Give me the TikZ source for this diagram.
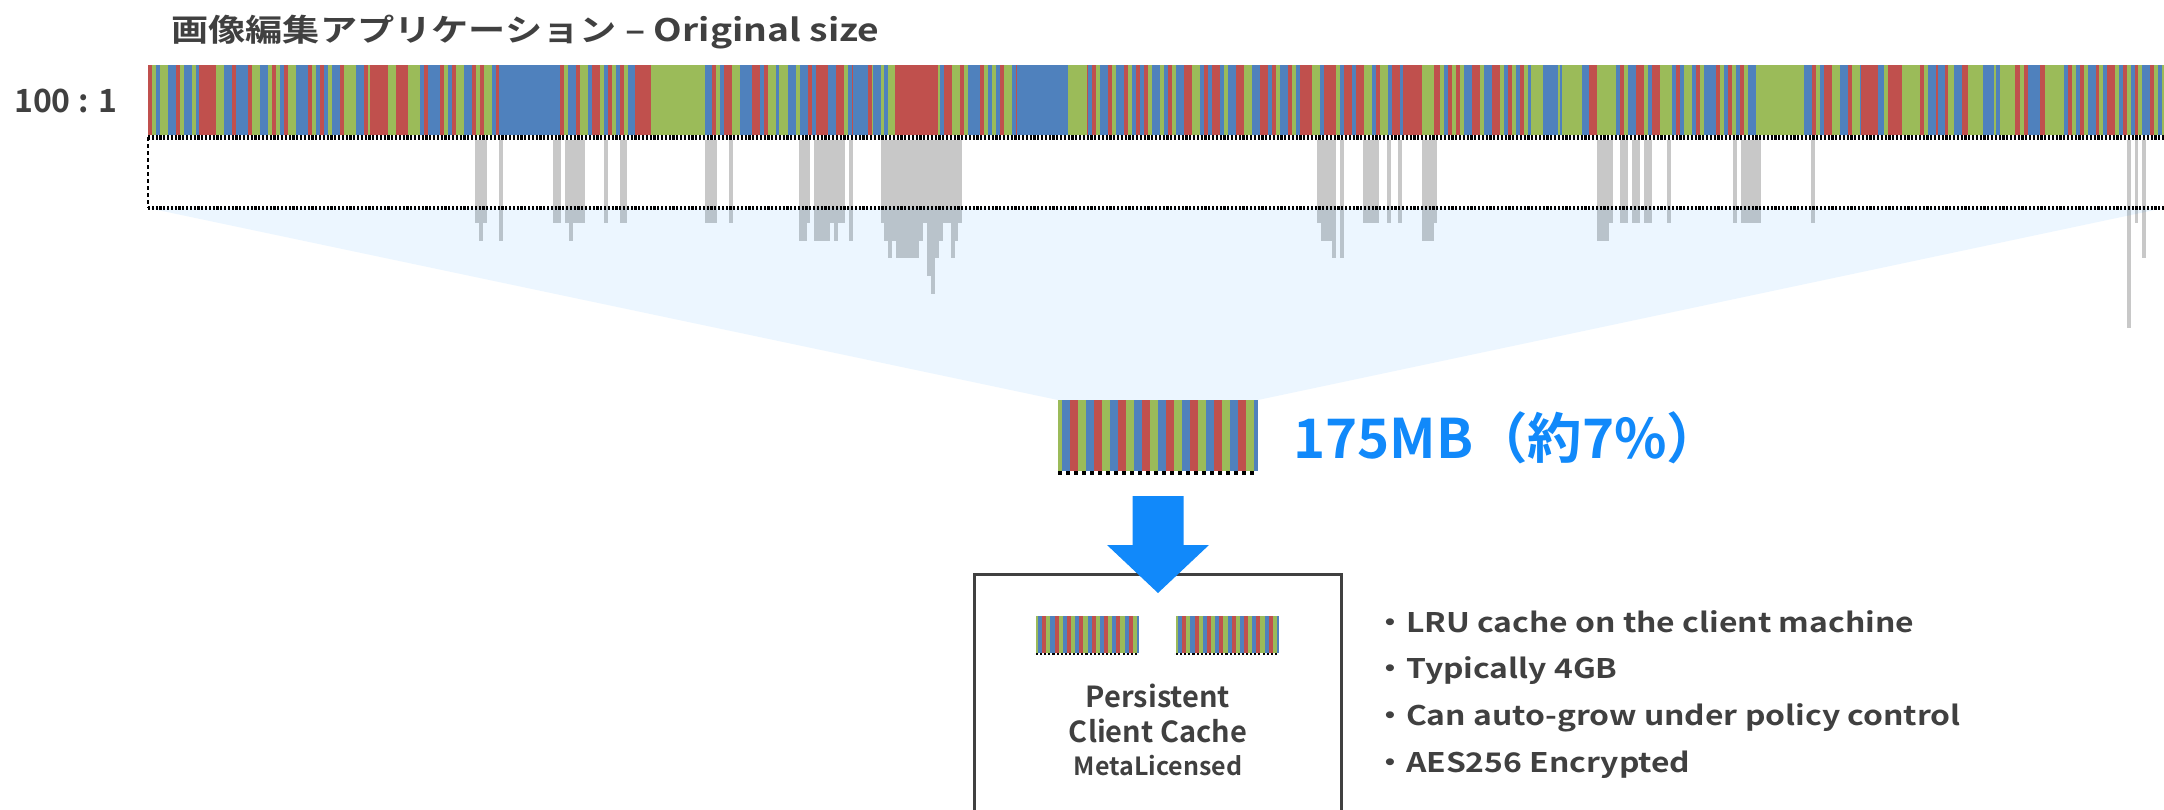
\documentclass[tikz,border=0pt]{standalone}
\usepackage{fontspec}
\usetikzlibrary{calc}
\newfontfamily\jpwide{Noto Sans CJK JP Bold}[FakeStretch=1.2]
\newfontfamily\jplist{Noto Sans CJK JP Bold}[FakeStretch=1.18]
\newfontfamily\jpnorm{Noto Sans CJK JP Bold}
\definecolor{cred}{RGB}{192,80,77}
\definecolor{cgreen}{RGB}{155,187,89}
\definecolor{cblue}{RGB}{79,129,189}
\definecolor{cbar}{RGB}{200,200,200}
\definecolor{ctext}{RGB}{64,64,64}
\definecolor{cazure}{RGB}{17,137,250}
\newcount\sx
\newcount\sc
\newcount\sw
\tikzset{
  txt/.style={inner sep=0pt, text=ctext},
  bullet/.style={txt, anchor=base west, font=\jplist\fontsize{27}{32}\selectfont},
  boxtxt/.style={txt, anchor=base, font=\jpnorm\fontsize{29}{34}\selectfont},
  ghost/.style={inner sep=0pt, outer sep=0pt},
  stripset/.pic={
    \fill[cgreen] (0,0) rectangle (4,71);
    \foreach \k in {0,...,7}{
      \fill[cblue]  (4+24*\k,0)  rectangle (12+24*\k,71);
      \fill[cred]   (12+24*\k,0) rectangle (20+24*\k,71);
      \fill[cgreen] (20+24*\k,0) rectangle (28+24*\k,71);
    }
    \fill[cblue] (196,0) rectangle (200,71);
    \foreach \k in {0,...,24}{\fill[black] (8*\k,71) rectangle (8*\k+4,75);}
  }
}
\begin{document}
\begin{tikzpicture}[x=1pt,y=-1pt]
\useasboundingbox (0,0) rectangle (2164,810);
\clip (0,0) rectangle (2164,810);

% frames used as anchors
\node[ghost, minimum width=2016pt, minimum height=72.5pt, anchor=north west] (strip) at (148,65) {};
\node[ghost, minimum width=2016pt, minimum height=70.5pt, anchor=north west] (zoombox) at (148,137.5) {};
\node[ghost, minimum width=200pt, minimum height=71pt, anchor=north west] (sample) at (1058,400) {};

% thin stripes of the full-size file
\pgfmathsetseed{12}
\sx=148 \sc=0
\loop
  \pgfmathrandominteger{\rw}{1}{12}%
  \pgfmathrandominteger{\rc}{1}{7}%
  \ifnum\rw<9 \sw=4 \else\ifnum\rw<12 \sw=8 \else \sw=12 \fi\fi
  \ifnum\rc=1 \advance\sc by 2 \else \advance\sc by 1 \fi
  \ifnum\sc>2 \advance\sc by -3 \fi
  \ifcase\sc \def\scol{cblue}\or \def\scol{cred}\or \def\scol{cgreen}\fi
  \fill[\scol] (\the\sx,65) rectangle (\the\numexpr\sx+\sw\relax,135);
  \advance\sx by \sw
\ifnum\sx<2164 \repeat

% wider blocks
\foreach \a/\b/\c in {199/216/cred, 370/387/cred, 499/557/cblue, 635/651/cred,
  651/705/cgreen, 779/787/cgreen, 853/865/cblue, 873/881/cblue, 895/938/cred,
  1017/1068/cblue, 1068/1087/cgreen, 1324/1336/cred, 1403/1422/cred,
  1422/1434/cgreen, 1531/1543/cgreen, 1543/1558/cblue, 1562/1582/cgreen,
  1582/1589/cblue, 1589/1597/cred, 1597/1613/cgreen, 1761/1780/cgreen,
  1786/1801/cgreen, 1861/1878/cred, 1888/1902/cred, 1902/1920/cgreen,
  1938/1945/cblue, 1954/1962/cblue, 1971/1983/cgreen, 1983/1994/cblue,
  2002/2015/cgreen, 2028/2043/cblue, 2040/2045/cred, 2045/2064/cgreen,
  2064/2068/cblue, 2068/2072/cred, 2072/2076/cgreen, 2076/2080/cblue,
  2080/2084/cred, 2084/2088/cgreen, 2088/2096/cblue, 2096/2099/cred,
  2099/2103/cgreen, 2103/2107/cblue, 2107/2115/cred, 2115/2119/cgreen,
  2119/2123/cblue, 2123/2127/cred, 2127/2131/cgreen, 2131/2135/cblue,
  2135/2138/cred, 2138/2142/cgreen, 2142/2150/cblue, 2150/2154/cred,
  2154/2158/cgreen, 2158/2162/cblue, 2162/2164/cgreen}
  \fill[\c] (\a,65) rectangle (\b,135);

% gray access columns
\foreach \a/\b/\d in {475/487/223, 479/483/241, 499/503/241, 553/561/223,
  565/585/223, 569/573/241, 604/608/223, 620/627/223, 705/717/223, 729/733/223,
  799/810/223, 799/807/241, 814/845/223, 814/830/241, 834/838/241, 849/853/241,
  881/962/223, 884/923/241, 888/892/258, 896/919/258, 927/943/241, 927/939/258,
  927/935/276, 931/935/294, 951/958/241, 951/955/258,
  1317/1336/223, 1321/1336/241, 1332/1336/258, 1340/1344/258, 1363/1379/223,
  1387/1391/223, 1398/1402/223, 1422/1437/223, 1422/1434/241,
  1597/1613/223, 1597/1609/241, 1620/1628/223, 1632/1640/223, 1644/1652/223,
  1667/1671/223, 1733/1737/223, 1741/1761/223, 1811/1815/223,
  2127/2131/328, 2135/2138/223, 2142/2146/258}
  \fill[cbar] (\a,140) rectangle (\b,\d);

% projection onto the sample
\fill[cazure, fill opacity=0.08] (zoombox.south west) -- (zoombox.south east)
  -- (sample.north east) -- (sample.north west) -- cycle;

% dashed frame
\draw[line width=5pt, dash pattern=on 2.2pt off 1.6pt] (zoombox.north west) -- (zoombox.north east);
\draw[line width=4pt, dash pattern=on 2.2pt off 1.6pt] (zoombox.south west) -- (zoombox.south east);
\draw[line width=1.5pt, dash pattern=on 4pt off 3pt] (zoombox.north west) -- (zoombox.south west);

% sample and cache contents
\pic at (sample.north west) {stripset};
\pic[scale=0.515] at (1036,616) {stripset};
\pic[scale=0.515] at (1176,616) {stripset};

% cache box
\node[draw=ctext, line width=3pt, minimum width=367.5pt, minimum height=300pt,
  anchor=north, inner sep=0pt] (cache) at (1158,572.5) {};

% block arrow from the sample into the cache
\fill[cazure] let \p1=(sample.south), \p2=(cache.north) in
  (\x1-25.5pt,\y1-25pt) -- (\x1+25.5pt,\y1-25pt) -- (\x1+25.5pt,\y2+27.5pt)
  -- (\x1+51pt,\y2+27.5pt) -- (\x1,\y2-20.5pt) -- (\x1-51pt,\y2+27.5pt)
  -- (\x1-25.5pt,\y2+27.5pt) -- cycle;

% texts
\node[txt, anchor=base west, font=\jpwide\fontsize{31}{37}\selectfont] (title) at (171,42)
  {画像編集アプリケーション – Original size};
\node[txt, anchor=base west, font=\jpnorm\fontsize{32}{38}\selectfont] (ratio) at (14,113) {100 : 1};
\node[inner sep=0pt, anchor=base west, text=cazure, font=\jpnorm\fontsize{54.5}{64}\selectfont] (size) at (1293,458)
  {175MB（約7\%）};

\node[boxtxt] (l1) at (1158,707) {Persistent};
\node[boxtxt] (l2) at (1158,742) {Client Cache};
\node[txt, anchor=base, font=\jpnorm\fontsize{25}{30}\selectfont] (l3) at (1158,775) {MetaLicensed};

\node[bullet] (b1) at (1374,632) {・LRU cache on the client machine};
\node[bullet] (b2) at (1374,678) {・Typically 4GB};
\node[bullet] (b3) at (1374,725) {・Can auto-grow under policy control};
\node[bullet] (b4) at (1374,772) {・AES256 Encrypted};
\end{tikzpicture}
\end{document}
